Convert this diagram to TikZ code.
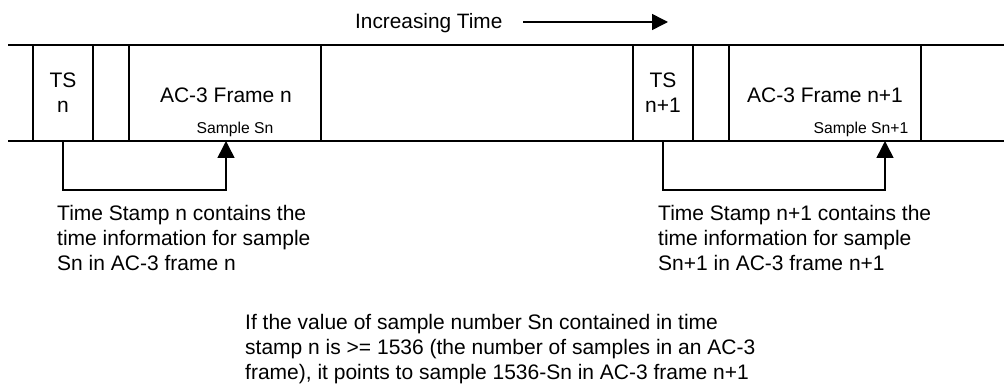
\documentclass[tikz,border=0pt]{standalone}
\usepackage{fontspec}
\setmainfont{Liberation Sans}
\usetikzlibrary{arrows.meta}
\begin{document}
\begin{tikzpicture}[x=1pt,y=-1pt,
  rail/.style={line width=1.5pt},
  cell/.style={draw, line width=1.5pt, minimum height=96pt, inner sep=0pt},
  big/.style={font=\fontsize{21}{25}\selectfont, inner sep=0pt},
  small/.style={font=\fontsize{15.7}{18}\selectfont, inner sep=0pt},
  ptr/.style={line width=1.5pt, -{Triangle[length=17pt,width=17pt]}},
  note/.style={big, align=left, anchor=base west}]
\useasboundingbox (0,0) rectangle (1004,385);

% time axis
\node[font=\fontsize{20.8}{25}\selectfont, inner sep=0pt, anchor=base west] (inc) at (355,29) {Increasing Time};
\coordinate (incA) at (523,22);
\coordinate (incB) at (668,22);
\draw[line width=1.5pt, -{Triangle[length=16pt,width=16pt]}] (incA) -- (incB);

% stream rails
\coordinate (railTL) at (8,45);
\coordinate (railTR) at (1004,45);
\coordinate (railBL) at (8,141);
\coordinate (railBR) at (1004,141);
\draw[rail] (railTL) -- (railTR);
\draw[rail] (railBL) -- (railBR);

% time stamp n and frame n
\node[cell, big, align=center, minimum width=60pt] (tsn) at (63,93) {TS\\n};
\node[cell, minimum width=192pt] (frn) at (225,93) {};
\node[big, anchor=base] (frnlbl) at (226,103) {AC-3 Frame n};
\node[small, anchor=base] (smpn) at (235,134) {Sample Sn};

% time stamp n+1 and frame n+1
\node[cell, big, align=center, minimum width=60pt] (tsm) at (663,93) {TS\\n+1};
\node[cell, minimum width=192pt] (frm) at (825,93) {};
\node[big, anchor=base] (frmlbl) at (825,103) {AC-3 Frame n+1};
\node[small, anchor=base] (smpm) at (861,134) {Sample Sn+1};

% pointers from stamps to samples
\coordinate (sn) at (226,141);
\coordinate (sm) at (885,141);
\draw[ptr] (tsn.south) -- ++(0,48) -| (sn);
\draw[ptr] (tsm.south) -- ++(0,48) -| (sm);

% explanations (base anchor sits on the last line)
\node[note] (noteL) at (57,270) {Time Stamp n contains the\\time information for sample\\Sn in AC-3 frame n};
\node[note] (noteR) at (658,270) {Time Stamp n+1 contains the\\time information for sample\\Sn+1 in AC-3 frame n+1};
\node[note] (rule) at (245,379) {If the value of sample number Sn contained in time\\stamp n is >= 1536 (the number of samples in an AC-3\\frame), it points to sample 1536-Sn in AC-3 frame n+1};
\end{tikzpicture}
\end{document}
